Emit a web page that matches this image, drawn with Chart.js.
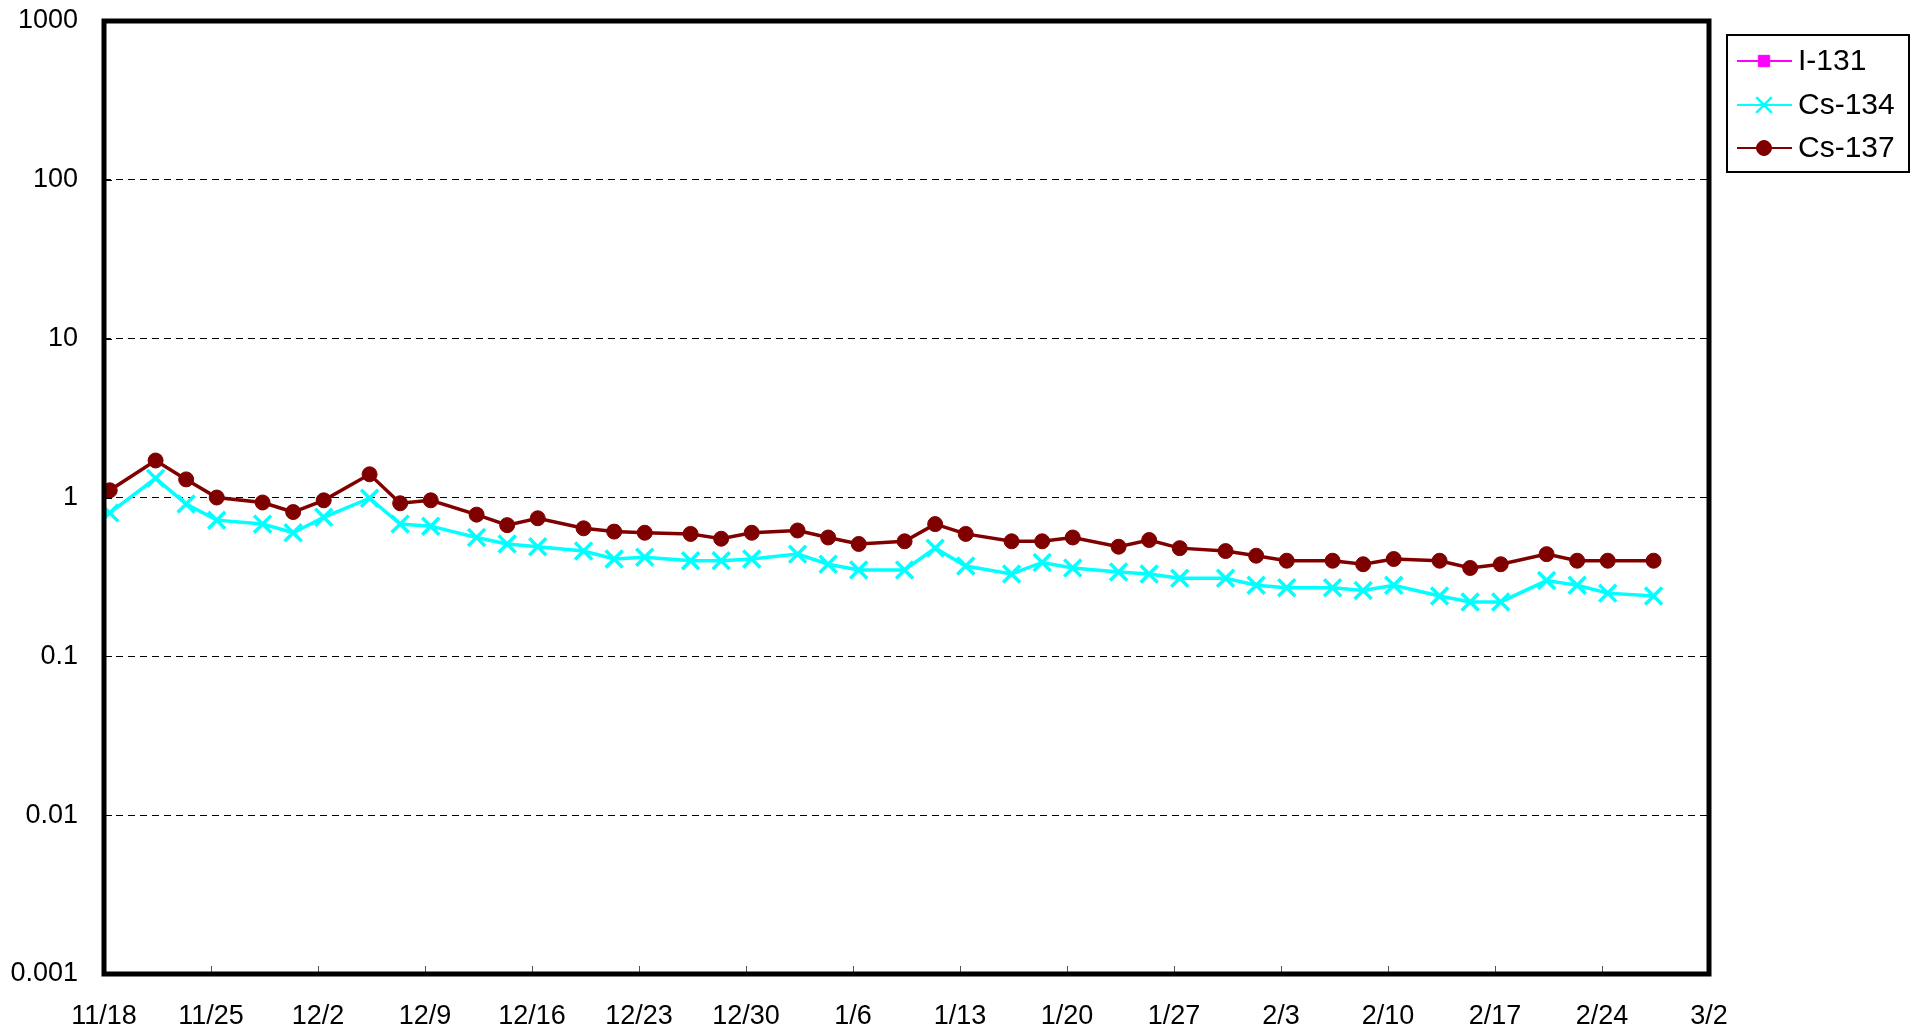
<!DOCTYPE html>
<html>
<head>
<meta charset="utf-8">
<script src="https://cdn.jsdelivr.net/npm/chart.js@4/dist/chart.umd.min.js"></script>
<style>
  html, body { margin: 0; padding: 0; background: #ffffff; }
  canvas { display: block; }
</style>
</head>
<body>
<canvas id="c" width="1915" height="1034"></canvas>
<script>
// ---------------- data ----------------
const startDate = '2011-11-18';
const sampleTime = 'T09:00:00Z';
const sampleDates = ['2011-11-16','2011-11-18','2011-11-21','2011-11-23','2011-11-25','2011-11-28','2011-11-30',
  '2011-12-02','2011-12-05','2011-12-07','2011-12-09','2011-12-12','2011-12-14','2011-12-16','2011-12-19',
  '2011-12-21','2011-12-23','2011-12-26','2011-12-28','2011-12-30','2012-01-02','2012-01-04','2012-01-06',
  '2012-01-09','2012-01-11','2012-01-13','2012-01-16','2012-01-18','2012-01-20','2012-01-23','2012-01-25',
  '2012-01-27','2012-01-30','2012-02-01','2012-02-03','2012-02-06','2012-02-08','2012-02-10','2012-02-13',
  '2012-02-15','2012-02-17','2012-02-20','2012-02-22','2012-02-24','2012-02-27'];
const i131 = [];
const cs134 = [0.93, 0.80,1.32,0.91,0.72,0.68,0.60,0.75,0.99,0.68,0.66,0.56,0.51,
  0.49,0.46,0.41,0.42,0.40,0.40,0.41,0.44,0.38,0.35,0.35,
  0.48,0.37,0.33,0.39,0.36,0.34,0.33,0.31,0.31,0.28,0.27,0.27,
  0.26,0.28,0.24,0.22,0.22,0.30,0.28,0.25,0.24];
const cs137 = [1.24, 1.11,1.71,1.30,1.00,0.93,0.81,0.96,1.40,0.92,0.96,0.78,0.67,
  0.74,0.64,0.61,0.60,0.59,0.55,0.60,0.62,0.56,0.51,0.53,
  0.68,0.59,0.53,0.53,0.56,0.49,0.54,0.48,0.46,0.43,0.40,0.40,
  0.38,0.41,0.40,0.36,0.38,0.44,0.40,0.40,0.40];
const seriesNames = ['I-131','Cs-134','Cs-137'];
const xTickLabels = ['11/18','11/25','12/2','12/9','12/16','12/23','12/30','1/6','1/13','1/20','1/27','2/3','2/10','2/17','2/24','3/2'];
const xTickStepDays = 7;
const yTickValues = [0.001,0.01,0.1,1,10,100,1000];
const yTickLabels = ['0.001','0.01','0.1','1','10','100','1000'];

// ---------------- build ----------------
const DAY = 86400000;
const t0 = Date.parse(startDate + 'T00:00:00Z');
const dayOf = d => (Date.parse(d + sampleTime) - t0) / DAY;
const toPoints = vals => vals.map((v, i) => ({ x: dayOf(sampleDates[i]), y: v }));

const FONT = '"Liberation Sans", Arial, sans-serif';

const framePlugin = {
  id: 'frame',
  afterDatasetsDraw(chart) {
    const { ctx, chartArea: a, scales } = chart;
    ctx.save();
    ctx.strokeStyle = '#555';
    ctx.lineWidth = 1;
    scales.x.ticks.forEach(t => {
      const px = Math.round(scales.x.getPixelForValue(t.value)) + 0.5;
      ctx.beginPath();
      ctx.moveTo(px, a.bottom);
      ctx.lineTo(px, a.bottom - 8);
      ctx.stroke();
    });
    ctx.strokeStyle = '#000';
    scales.y.ticks.forEach(t => {
      const py = Math.round(scales.y.getPixelForValue(t.value)) + 0.5;
      ctx.beginPath();
      ctx.moveTo(a.left, py);
      ctx.lineTo(a.left + 8, py);
      ctx.stroke();
    });
    ctx.lineWidth = 5;
    ctx.strokeRect(a.left, a.top, a.right - a.left, a.bottom - a.top);
    ctx.restore();
  },
  afterDraw(chart) {
    const { ctx } = chart;
    ctx.save();
    const bx = 1727, by = 35, bw = 182, bh = 137;
    ctx.fillStyle = '#fff';
    ctx.fillRect(bx, by, bw, bh);
    ctx.strokeStyle = '#000';
    ctx.lineWidth = 2;
    ctx.strokeRect(bx, by, bw, bh);
    const rows = [61, 105, 148];
    chart.data.datasets.forEach((ds, i) => {
      const y = rows[i];
      ctx.strokeStyle = ds.borderColor;
      ctx.lineWidth = 2;
      ctx.beginPath();
      ctx.moveTo(1737, y);
      ctx.lineTo(1792, y);
      ctx.stroke();
      ctx.fillStyle = ds.pointBackgroundColor;
      ctx.strokeStyle = ds.pointBorderColor;
      ctx.lineWidth = ds.legendPointBorder;
      Chart.helpers.drawPoint(ctx, { pointStyle: ds.pointStyle, radius: ds.legendPointRadius, rotation: 0, borderWidth: ds.legendPointBorder }, 1764, y);
      ctx.fillStyle = '#000';
      ctx.font = '30px ' + FONT;
      ctx.textBaseline = 'middle';
      ctx.textAlign = 'left';
      ctx.fillText(ds.label, 1798, y + 1);
    });
    ctx.restore();
  }
};

new Chart(document.getElementById('c'), {
  type: 'line',
  data: {
    datasets: [
      { label: seriesNames[0], data: toPoints(i131), borderColor: '#FF00FF', backgroundColor: '#FF00FF',
        pointBackgroundColor: '#FF00FF', pointBorderColor: '#FF00FF', pointStyle: 'rect',
        pointRadius: 7, borderWidth: 3.5, legendPointRadius: 8, legendPointBorder: 1 },
      { label: seriesNames[1], data: toPoints(cs134), borderColor: '#00FFFF', backgroundColor: '#00FFFF',
        pointBackgroundColor: '#00FFFF', pointBorderColor: '#00FFFF', pointStyle: 'crossRot',
        pointRadius: 12, pointBorderWidth: 3.5, borderWidth: 3.5, legendPointRadius: 11, legendPointBorder: 2.5 },
      { label: seriesNames[2], data: toPoints(cs137), borderColor: '#800000', backgroundColor: '#800000',
        pointBackgroundColor: '#800000', pointBorderColor: '#800000', pointStyle: 'circle',
        pointRadius: 7.5, pointBorderWidth: 1, borderWidth: 3.5, legendPointRadius: 7.5, legendPointBorder: 1 }
    ]
  },
  options: {
    responsive: false,
    animation: false,
    events: [],
    layout: { padding: { left: 0, top: 21, right: 206, bottom: 0 } },
    plugins: { legend: { display: false }, tooltip: { enabled: false } },
    elements: { line: { tension: 0 } },
    scales: {
      x: {
        type: 'linear',
        min: 0,
        max: xTickStepDays * (xTickLabels.length - 1),
        afterFit: s => { s.height = 60; },
        afterBuildTicks: s => { s.ticks = xTickLabels.map((l, i) => ({ value: i * xTickStepDays })); },
        ticks: {
          autoSkip: false, maxRotation: 0, padding: 18, color: '#000',
          font: { family: FONT, size: 27 },
          callback: (v, i) => xTickLabels[i]
        },
        grid: { display: false },
        border: { display: false }
      },
      y: {
        type: 'logarithmic',
        min: yTickValues[0],
        max: yTickValues[yTickValues.length - 1],
        afterFit: s => { s.width = 104; },
        afterBuildTicks: s => { s.ticks = yTickValues.map(v => ({ value: v })); },
        ticks: {
          autoSkip: false, padding: 0, color: '#000',
          font: { family: FONT, size: 27 },
          callback: (v, i) => yTickLabels[i]
        },
        grid: { color: '#000', lineWidth: 1, drawTicks: true, tickLength: 26, tickColor: 'rgba(0,0,0,0)', tickWidth: 0 },
        border: { display: false, dash: [7, 5] }
      }
    }
  },
  plugins: [framePlugin]
});
</script>
</body>
</html>
